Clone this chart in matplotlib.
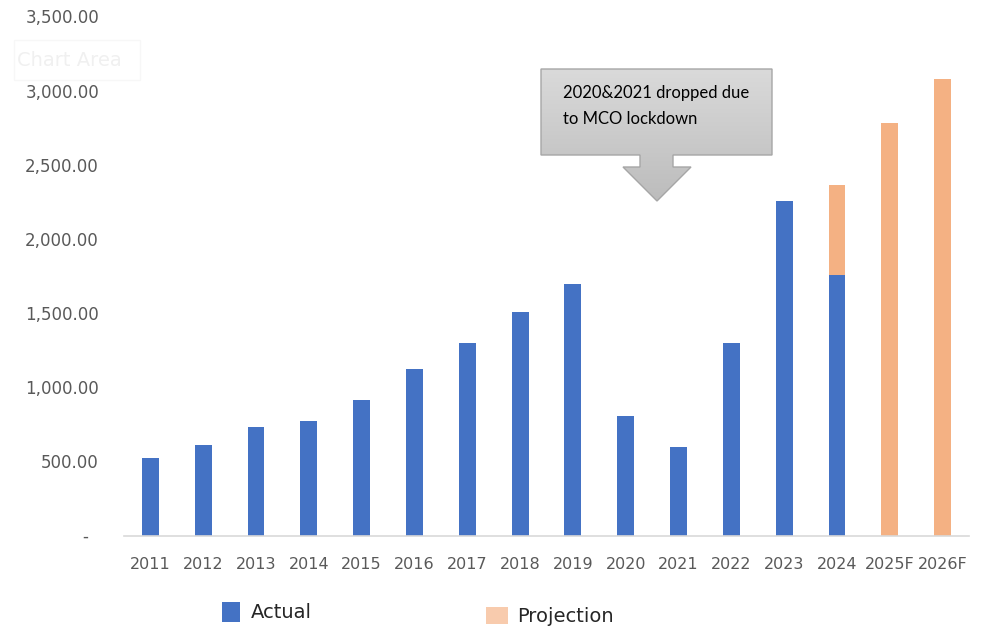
import numpy as np
import matplotlib
matplotlib.use("Agg")
import matplotlib.pyplot as plt
from matplotlib.patches import Rectangle
from matplotlib.path import Path as MPath
from matplotlib.patches import PathPatch
from matplotlib.colors import LinearSegmentedColormap

# ── Data ────────────────────────────────────────────────────────────────────
years = ["2011", "2012", "2013", "2014", "2015", "2016", "2017", "2018",
         "2019", "2020", "2021", "2022", "2023", "2024", "2025F", "2026F"]
actual = [525, 610, 730, 775, 915, 1125, 1300, 1505,
          1695, 805, 600, 1300, 2255, 1755, 0, 0]
projection = [0, 0, 0, 0, 0, 0, 0, 0,
              0, 0, 0, 0, 0, 605, 2780, 3080]
y_ticks = [0, 500, 1000, 1500, 2000, 2500, 3000, 3500]

BLUE = "#4472C4"
ORANGE = "#F4B183"
GREY_TXT = "#595959"

W, H = 983, 633
fig = plt.figure(figsize=(W / 100, H / 100), dpi=100)
fig.patch.set_facecolor("white")

# ── Main axes ───────────────────────────────────────────────────────────────
ax = fig.add_axes([124 / W, 1 - 535.5 / H, 845 / W, (535.5 - 16.4) / H])
x = np.arange(len(years))
act = np.array(actual, dtype=float)
proj = np.array(projection, dtype=float)
ax.bar(x, act, width=0.32, color=BLUE, zorder=2)
ax.bar(x[proj > 0], proj[proj > 0], bottom=act[proj > 0], width=0.32,
       color=ORANGE, zorder=2)

ax.set_xlim(-0.5, len(years) - 0.5)
ax.set_ylim(0, 3500)
ax.set_xticks(x)
ax.set_xticklabels(years)
ax.set_yticks(y_ticks)
ax.set_yticklabels([f"{v:,.2f}" if v else "-  " for v in y_ticks])
ax.tick_params(axis="x", length=0, pad=15.5, labelsize=11.5, colors=GREY_TXT)
ax.tick_params(axis="y", length=0, pad=18, labelsize=12, colors=GREY_TXT)
for s in ["top", "right", "left"]:
    ax.spines[s].set_visible(False)
ax.spines["bottom"].set_color("#d9d9d9")
ax.spines["bottom"].set_linewidth(1.2)

# ── Overlay in pixel coordinates for callout, legend and ghost label ──────
ov = fig.add_axes([0, 0, 1, 1], zorder=5)
ov.axis("off")
ov.patch.set_alpha(0)

# callout: box with a down arrow, grey gradient fill
verts = [(541, 69), (772, 69), (772, 155), (673, 155), (673, 167), (691, 167),
         (657, 201), (623, 167), (640, 167), (640, 155), (541, 155), (541, 69)]
codes = [MPath.MOVETO] + [MPath.LINETO] * (len(verts) - 2) + [MPath.CLOSEPOLY]
shape = PathPatch(MPath(verts, codes), facecolor="none", edgecolor="#a6a6a6",
                  linewidth=1.0, zorder=3)
ov.add_patch(shape)
grad = np.linspace(0, 1, 256).reshape(-1, 1)
cmap = LinearSegmentedColormap.from_list("g", ["#dadada", "#bcbcbc"])
img = ov.imshow(grad, cmap=cmap, extent=(541, 772, 201, 69), aspect="auto",
                zorder=2, interpolation="bicubic")
img.set_clip_path(shape)
ov.set_xlim(0, W)
ov.set_ylim(H, 0)
ov.text(563, 93, "2020&2021 dropped due", fontsize=12, family="Lato",
        color="black", va="center", ha="left", zorder=4)
ov.text(563, 119, "to MCO lockdown", fontsize=12, family="Lato",
        color="black", va="center", ha="left", zorder=4)

# ghost "Chart Area" tooltip
ov.add_patch(Rectangle((14, 40), 126, 40, facecolor="white", edgecolor="#f7f7f7",
                       linewidth=1, zorder=1))
ov.text(17, 61, "Chart Area", fontsize=14, color="#f0f0f0", va="center",
        ha="left", zorder=2)

# legend
ov.add_patch(Rectangle((222, 602), 18, 20, facecolor=BLUE, edgecolor="none"))
ov.text(251, 613, "Actual", fontsize=14, color="#262626", va="center", ha="left")
ov.add_patch(Rectangle((486, 607), 22, 17, facecolor="#F8CBAD", edgecolor="none"))
ov.text(517, 617, "Projection", fontsize=14, color="#262626", va="center", ha="left")

fig.savefig("out.png", dpi=100)
